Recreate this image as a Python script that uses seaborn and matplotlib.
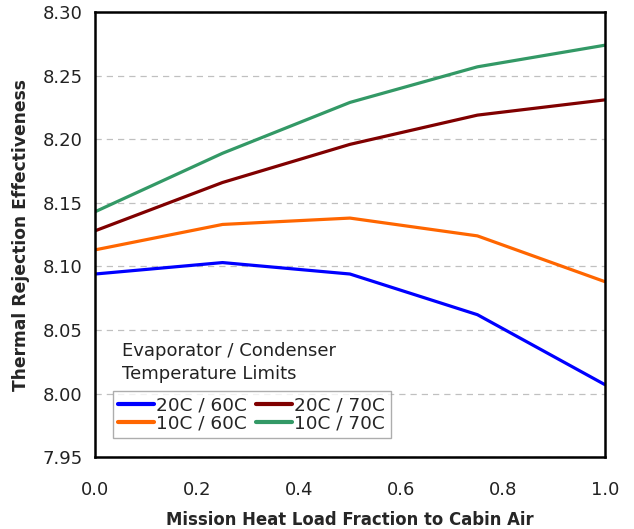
import pandas as pd
import matplotlib
matplotlib.use("Agg")
import matplotlib.pyplot as plt
import seaborn as sns

# data
fraction = [0.0, 0.25, 0.5, 0.75, 1.0]
lim_20_60 = [8.094, 8.103, 8.094, 8.062, 8.007]
lim_10_60 = [8.113, 8.133, 8.138, 8.124, 8.088]
lim_20_70 = [8.128, 8.166, 8.196, 8.219, 8.231]
lim_10_70 = [8.143, 8.189, 8.229, 8.257, 8.274]
# legend fills column-wise: col 1 = 60C limits, col 2 = 70C limits
series_names = ["20C / 60C", "10C / 60C", "20C / 70C", "10C / 70C"]
series_colors = ["#0000FF", "#FF6600", "#800000", "#339966"]

sns.set_style("white")
plt.rcParams['font.family'] = ['DejaVu Sans']

series = {
    "20C / 60C": lim_20_60,
    "10C / 60C": lim_10_60,
    "20C / 70C": lim_20_70,
    "10C / 70C": lim_10_70,
}
rows = []
for name, vals in series.items():
    for x, y in zip(fraction, vals):
        rows.append({"fraction": x, "value": y, "limits": name})
df = pd.DataFrame(rows)

fig = plt.figure(figsize=(6.34, 5.29), dpi=100)
ax = fig.add_axes([0.150, 0.136, 0.804, 0.841])

sns.lineplot(data=df, x="fraction", y="value", hue="limits", hue_order=series_names,
             palette=dict(zip(series_names, series_colors)), linewidth=2.3, ax=ax)

ax.set_xlim(0, 1.0)
ax.set_ylim(7.95, 8.30)
ax.set_xticks([0.0, 0.2, 0.4, 0.6, 0.8, 1.0])
ax.set_yticks([7.95, 8.00, 8.05, 8.10, 8.15, 8.20, 8.25, 8.30])
ax.xaxis.set_major_formatter(matplotlib.ticker.FormatStrFormatter('%.1f'))
ax.yaxis.set_major_formatter(matplotlib.ticker.FormatStrFormatter('%.2f'))
ax.yaxis.grid(True, color='#c0c0c0', ls=(0, (5, 4)), lw=0.9)
ax.set_axisbelow(True)
for sp in ax.spines.values():
    sp.set_color('black')
    sp.set_linewidth(1.8)
ax.tick_params(axis='both', direction='out', length=5, width=1, colors='black',
               labelsize=13, labelcolor='#222222')
ax.tick_params(axis='x', pad=12)
ax.tick_params(axis='y', pad=4)

ax.set_xlabel("Mission Heat Load Fraction to Cabin Air", fontsize=11.9,
              fontweight='bold', labelpad=9)
ax.set_ylabel("Thermal Rejection Effectiveness", fontsize=12.3,
              fontweight='bold', labelpad=9)

leg = ax.legend(loc='lower left', bbox_to_anchor=(0.035, 0.043), ncol=2,
                fontsize=13.3, frameon=True, fancybox=False, edgecolor='#999999',
                handlelength=1.9, handletextpad=0.15, columnspacing=0.5,
                borderpad=0.3, labelspacing=0.0, borderaxespad=0)
leg.get_frame().set_linewidth(1.0)
for line in leg.get_lines():
    line.set_linewidth(3)

ax.text(0.053, 0.258, "Evaporator / Condenser\nTemperature Limits", transform=ax.transAxes,
        fontsize=13, color='#222222', va='top', ha='left', linespacing=1.35)

fig.savefig("out.png", dpi=100)
